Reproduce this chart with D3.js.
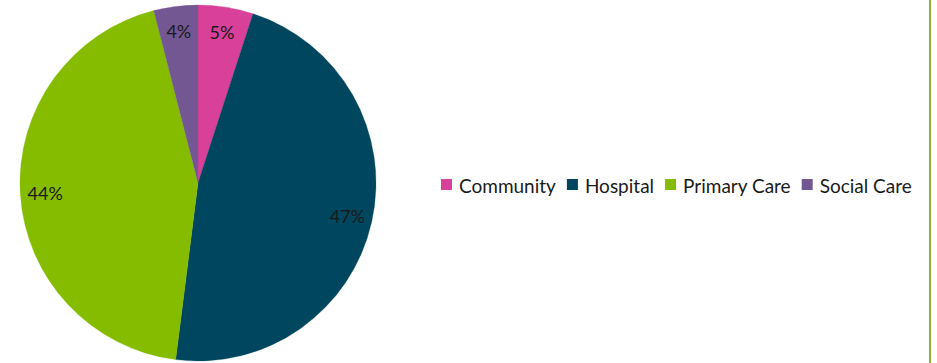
<!DOCTYPE html>
<html>
<head>
<meta charset="utf-8">
<script src="https://cdn.jsdelivr.net/npm/d3@7"></script>
<style>
  html, body { margin: 0; padding: 0; background: #fff; }
  svg { display: block; }
  text { font-family: Lato, "Open Sans", sans-serif; }
</style>
</head>
<body>
<svg id="chart" width="937" height="363"></svg>
<script>
// Share of spend by care setting (percent)
const categories = ["Community", "Hospital", "Primary Care", "Social Care"];
const shares = [5, 47, 44, 4];
const colors = ["#D8409A", "#00465F", "#86BC00", "#725792"];

const svg = d3.select("#chart");
const W = 937, H = 363;

// right-hand frame rule
svg.append("line")
  .attr("x1", 930).attr("x2", 930).attr("y1", 0).attr("y2", H)
  .attr("stroke", "#8DB43E").attr("stroke-width", 2);

const cx = 198, cy = 183, R = 178;
const data = categories.map((c, i) => ({ name: c, value: shares[i], color: colors[i] }));

const pie = d3.pie().value(d => d.value).sort(null);
const arc = d3.arc().innerRadius(0).outerRadius(R);
const labelArc = d3.arc().innerRadius(R * 0.86).outerRadius(R * 0.86);

const g = svg.append("g").attr("transform", `translate(${cx},${cy})`);
const arcs = pie(data);

g.selectAll("path.slice").data(arcs).join("path")
  .attr("class", "slice")
  .attr("d", arc)
  .attr("fill", d => d.data.color)
  .attr("stroke", d => d.data.color)
  .attr("stroke-width", 0.3);

g.selectAll("text.pct").data(arcs).join("text")
  .attr("class", "pct")
  .attr("transform", d => `translate(${labelArc.centroid(d)})`)
  .attr("text-anchor", "middle")
  .attr("dominant-baseline", "central")
  .attr("font-size", 18)
  .attr("fill", "#1a1a1a")
  .text(d => d.data.value + "%");

// legend
const legend = svg.append("g").attr("transform", "translate(441,185)");
let x = 0;
data.forEach(d => {
  const item = legend.append("g").attr("transform", `translate(${x},0)`);
  item.append("rect").attr("x", 0).attr("y", -6).attr("width", 11).attr("height", 11).attr("fill", d.color);
  const t = item.append("text").attr("x", 18).attr("y", 0)
    .attr("dominant-baseline", "central")
    .attr("font-size", 19).attr("fill", "#1a1a1a").text(d.name);
  x += 18 + t.node().getComputedTextLength() + 11;
});
</script>
</body>
</html>
